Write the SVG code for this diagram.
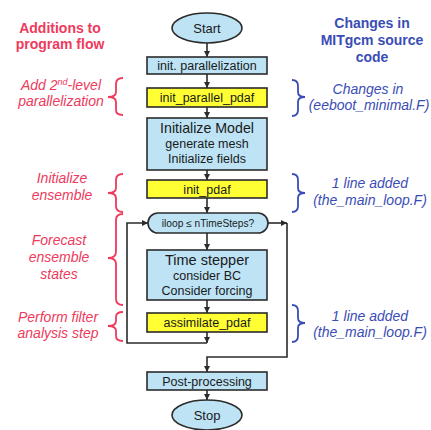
<svg xmlns="http://www.w3.org/2000/svg" width="431" height="430" viewBox="0 0 431 430">
<defs>
<marker id="ah" viewBox="0 0 10 10" refX="10" refY="5" markerWidth="6" markerHeight="6" orient="auto" markerUnits="userSpaceOnUse">
<path d="M0,0 L10,5 L0,10 z" fill="#2b2b2b"/>
</marker>
<style>
.blue{fill:#bde3f5;stroke:#2b2b2b;stroke-width:1.6}
.yel{fill:#ffff33;stroke:#2b2b2b;stroke-width:1.6}
.t{font-family:"Liberation Sans",Arial,sans-serif;fill:#1a1a1a;text-anchor:middle}
.c{fill:none;stroke:#2b2b2b;stroke-width:1.6}
.red{font-family:"Liberation Sans",Arial,sans-serif;fill:#ee3a5c;text-anchor:middle;font-size:14px}
.bl{font-family:"Liberation Sans",Arial,sans-serif;fill:#3a4db5;text-anchor:middle;font-size:14px}
.rb{fill:none;stroke:#ee3a5c;stroke-width:1.8}
.bb{fill:none;stroke:#3a4db5;stroke-width:1.8}
</style>
</defs>
<rect width="431" height="430" fill="#ffffff"/>

<g id="connectors">
<line class="c" x1="207" y1="43" x2="207" y2="57" marker-end="url(#ah)"/>
<line class="c" x1="207" y1="74" x2="207" y2="88" marker-end="url(#ah)"/>
<line class="c" x1="207" y1="107" x2="207" y2="118" marker-end="url(#ah)"/>
<line class="c" x1="207" y1="170" x2="207" y2="180" marker-end="url(#ah)"/>
<line class="c" x1="207" y1="198" x2="207" y2="213" marker-end="url(#ah)"/>
<line class="c" x1="207" y1="233" x2="207" y2="250" marker-end="url(#ah)"/>
<line class="c" x1="207" y1="300" x2="207" y2="313" marker-end="url(#ah)"/>
<line class="c" x1="207" y1="332" x2="207" y2="343" marker-end="url(#ah)"/>
<path class="c" d="M207,343 H127 V223 H148" marker-end="url(#ah)"/>
<line class="c" x1="268" y1="223" x2="287" y2="223" marker-end="url(#ah)"/>
<path class="c" d="M287,223 V357 H207 V372" marker-end="url(#ah)"/>
<line class="c" x1="207" y1="390" x2="207" y2="400" marker-end="url(#ah)"/>
</g>

<g id="start">
<ellipse class="blue" cx="207" cy="28" rx="35" ry="15"/>
<text class="t" x="207" y="33" font-size="13">Start</text>
</g>
<g id="init-parallelization">
<rect class="blue" x="147" y="57" width="120" height="17"/>
<text class="t" x="207" y="70" font-size="12.5">init. parallelization</text>
</g>
<g id="init-parallel-pdaf">
<rect class="yel" x="147" y="88" width="120" height="19"/>
<text class="t" x="207" y="102" font-size="12.5">init_parallel_pdaf</text>
</g>
<g id="initialize-model">
<rect class="blue" x="147" y="118" width="120" height="52"/>
<text class="t" x="207" y="133" font-size="14.2">Initialize Model</text>
<text class="t" x="207" y="148" font-size="12.5">generate mesh</text>
<text class="t" x="207" y="163" font-size="12.5">Initialize fields</text>
</g>
<g id="init-pdaf">
<rect class="yel" x="147" y="180" width="120" height="18"/>
<text class="t" x="207" y="194" font-size="12.5">init_pdaf</text>
</g>
<g id="iloop">
<rect class="blue" x="148" y="213" width="120" height="20" rx="10" ry="10"/>
<text class="t" x="208" y="227" font-size="10.2">iloop ≤ nTimeSteps?</text>
</g>
<g id="time-stepper">
<rect class="blue" x="147" y="250" width="120" height="50"/>
<text class="t" x="207" y="265" font-size="14.5">Time stepper</text>
<text class="t" x="207" y="280" font-size="12.5">consider BC</text>
<text class="t" x="207" y="295" font-size="12.5">Consider forcing</text>
</g>
<g id="assimilate-pdaf">
<rect class="yel" x="147" y="313" width="120" height="19"/>
<text class="t" x="207" y="327" font-size="12.5">assimilate_pdaf</text>
</g>
<g id="post-processing">
<rect class="blue" x="147" y="372" width="120" height="18"/>
<text class="t" x="207" y="385.5" font-size="12.5">Post-processing</text>
</g>
<g id="stop">
<ellipse class="blue" cx="207" cy="415" rx="35" ry="15"/>
<text class="t" x="207" y="420" font-size="13">Stop</text>
</g>

<g id="left-annotations">
<text class="red" x="60" y="33" font-weight="bold">Additions to</text>
<text class="red" x="60" y="49" font-weight="bold">program flow</text>
<text class="red" x="61" y="90" font-style="italic">Add 2<tspan font-size="9" dy="-5">nd</tspan><tspan dy="5">-level</tspan></text>
<text class="red" x="61" y="106" font-style="italic">parallelization</text>
<path class="rb" d="M123,78 Q116,78 116,84 V92 Q116,97 108,97 Q116,97 116,102 V110 Q116,115 123,115"/>
<text class="red" x="62" y="183" font-style="italic">Initialize</text>
<text class="red" x="62" y="200" font-style="italic">ensemble</text>
<path class="rb" d="M123,174 Q116,174 116,180 V188 Q116,193 108,193 Q116,193 116,198 V206 Q116,212 123,212"/>
<text class="red" x="59" y="245" font-style="italic">Forecast</text>
<text class="red" x="59" y="262" font-style="italic">ensemble</text>
<text class="red" x="59" y="279" font-style="italic">states</text>
<path class="rb" d="M123,214 Q116,214 116,220 V252 Q116,258 108,258 Q116,258 116,264 V299 Q116,305 123,305"/>
<text class="red" x="58" y="322" font-style="italic">Perform filter</text>
<text class="red" x="58" y="338" font-style="italic">analysis step</text>
<path class="rb" d="M123,312 Q116,312 116,317 V321 Q116,326 108,326 Q116,326 116,331 V336 Q116,341 123,341"/>
</g>

<g id="right-annotations">
<text class="bl" x="372" y="28" font-weight="bold">Changes in</text>
<text class="bl" x="372" y="45" font-weight="bold">MITgcm source</text>
<text class="bl" x="372" y="62" font-weight="bold">code</text>
<text class="bl" x="368" y="94" font-style="italic">Changes in</text>
<text class="bl" x="369" y="110" font-style="italic">(eeboot_minimal.F)</text>
<path class="bb" d="M292,80 Q298,80 298,86 V92 Q298,97 305,97 Q298,97 298,102 V110 Q298,116 292,116"/>
<text class="bl" x="370" y="188" font-style="italic">1 line added</text>
<text class="bl" x="370" y="205" font-style="italic">(the_main_loop.F)</text>
<path class="bb" d="M292,174 Q298,174 298,180 V188 Q298,193 305,193 Q298,193 298,198 V206 Q298,212 292,212"/>
<text class="bl" x="370" y="321" font-style="italic">1 line added</text>
<text class="bl" x="370" y="337" font-style="italic">(the_main_loop.F)</text>
<path class="bb" d="M292,305 Q298,305 298,311 V318 Q298,323 305,323 Q298,323 298,328 V336 Q298,342 292,342"/>
</g>
</svg>
